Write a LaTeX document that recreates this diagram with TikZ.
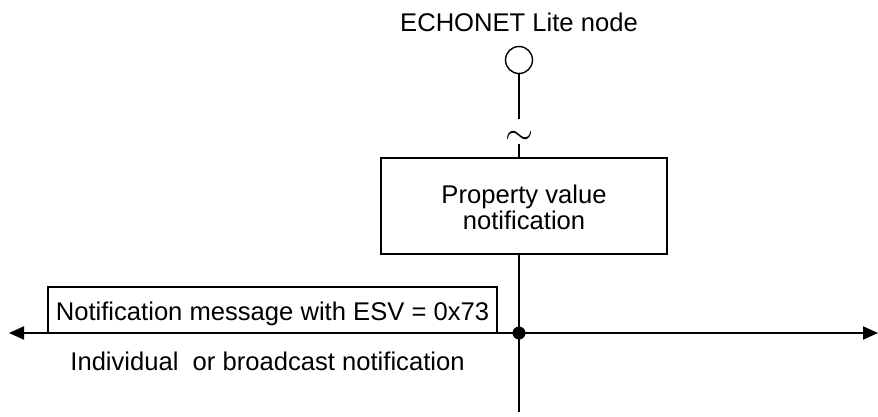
\documentclass[tikz,border=0pt]{standalone}
\usepackage{fontspec}
\setmainfont{Liberation Sans}
\usetikzlibrary{arrows.meta,positioning}

\newcommand{\lowered}[2]{\raisebox{-#1}[\height][\depth]{#2}}

\begin{document}
\begin{tikzpicture}[x=0.5pt,y=-0.5pt,>={Triangle[length=7.5pt,width=6.5pt]},align=center,
  font=\fontsize{12.8}{12.5}\selectfont,
  frame/.style={draw=black,line width=0.6pt,inner sep=0pt},
  wire/.style={line width=1pt}]
\useasboundingbox (0,0) rectangle (878,417);

%% ECHONET Lite node
\node (Title) at (519,22) {ECHONET Lite node};
\node (Node) [circle,draw,line width=0.7pt,minimum size=13.5pt,inner sep=0pt] at (519,60) {};
\node (Tilde) [minimum height=7.7pt,inner sep=0pt,scale=1.5] at (519,131.5) {\lowered{2pt}{$\sim$}};
\draw[wire] (Node) -- (Tilde.north);

%% Property value notification
\node (Prop) [frame,minimum width=143pt,minimum height=48pt] at (524,206)
      {\lowered{2.5pt}{\begin{tabular}{@{}c@{}}Property value\\notification\end{tabular}}};
\draw[wire] (Tilde.south) -- (Tilde.south |- Prop.north);

%% Transmission line
\coordinate (West) at (9,333);
\coordinate (East) at (878,333);
\coordinate (Bottom) at (519,412);
\node (Dot) [circle,fill=black,minimum size=6.5pt,inner sep=0pt] at (519,333) {};
\draw[wire,<->] (West) -- (East);
\draw[wire] (Prop.south -| Dot) -- (Bottom);

%% Message
\node (Msg) [frame,minimum width=224.5pt,minimum height=23pt] at (272.5,310)
      {\lowered{2pt}{Notification message with ESV = 0x73}};
\node (Cast) at (267.5,361) {Individual\ \ or broadcast notification};
\end{tikzpicture}
\end{document}
